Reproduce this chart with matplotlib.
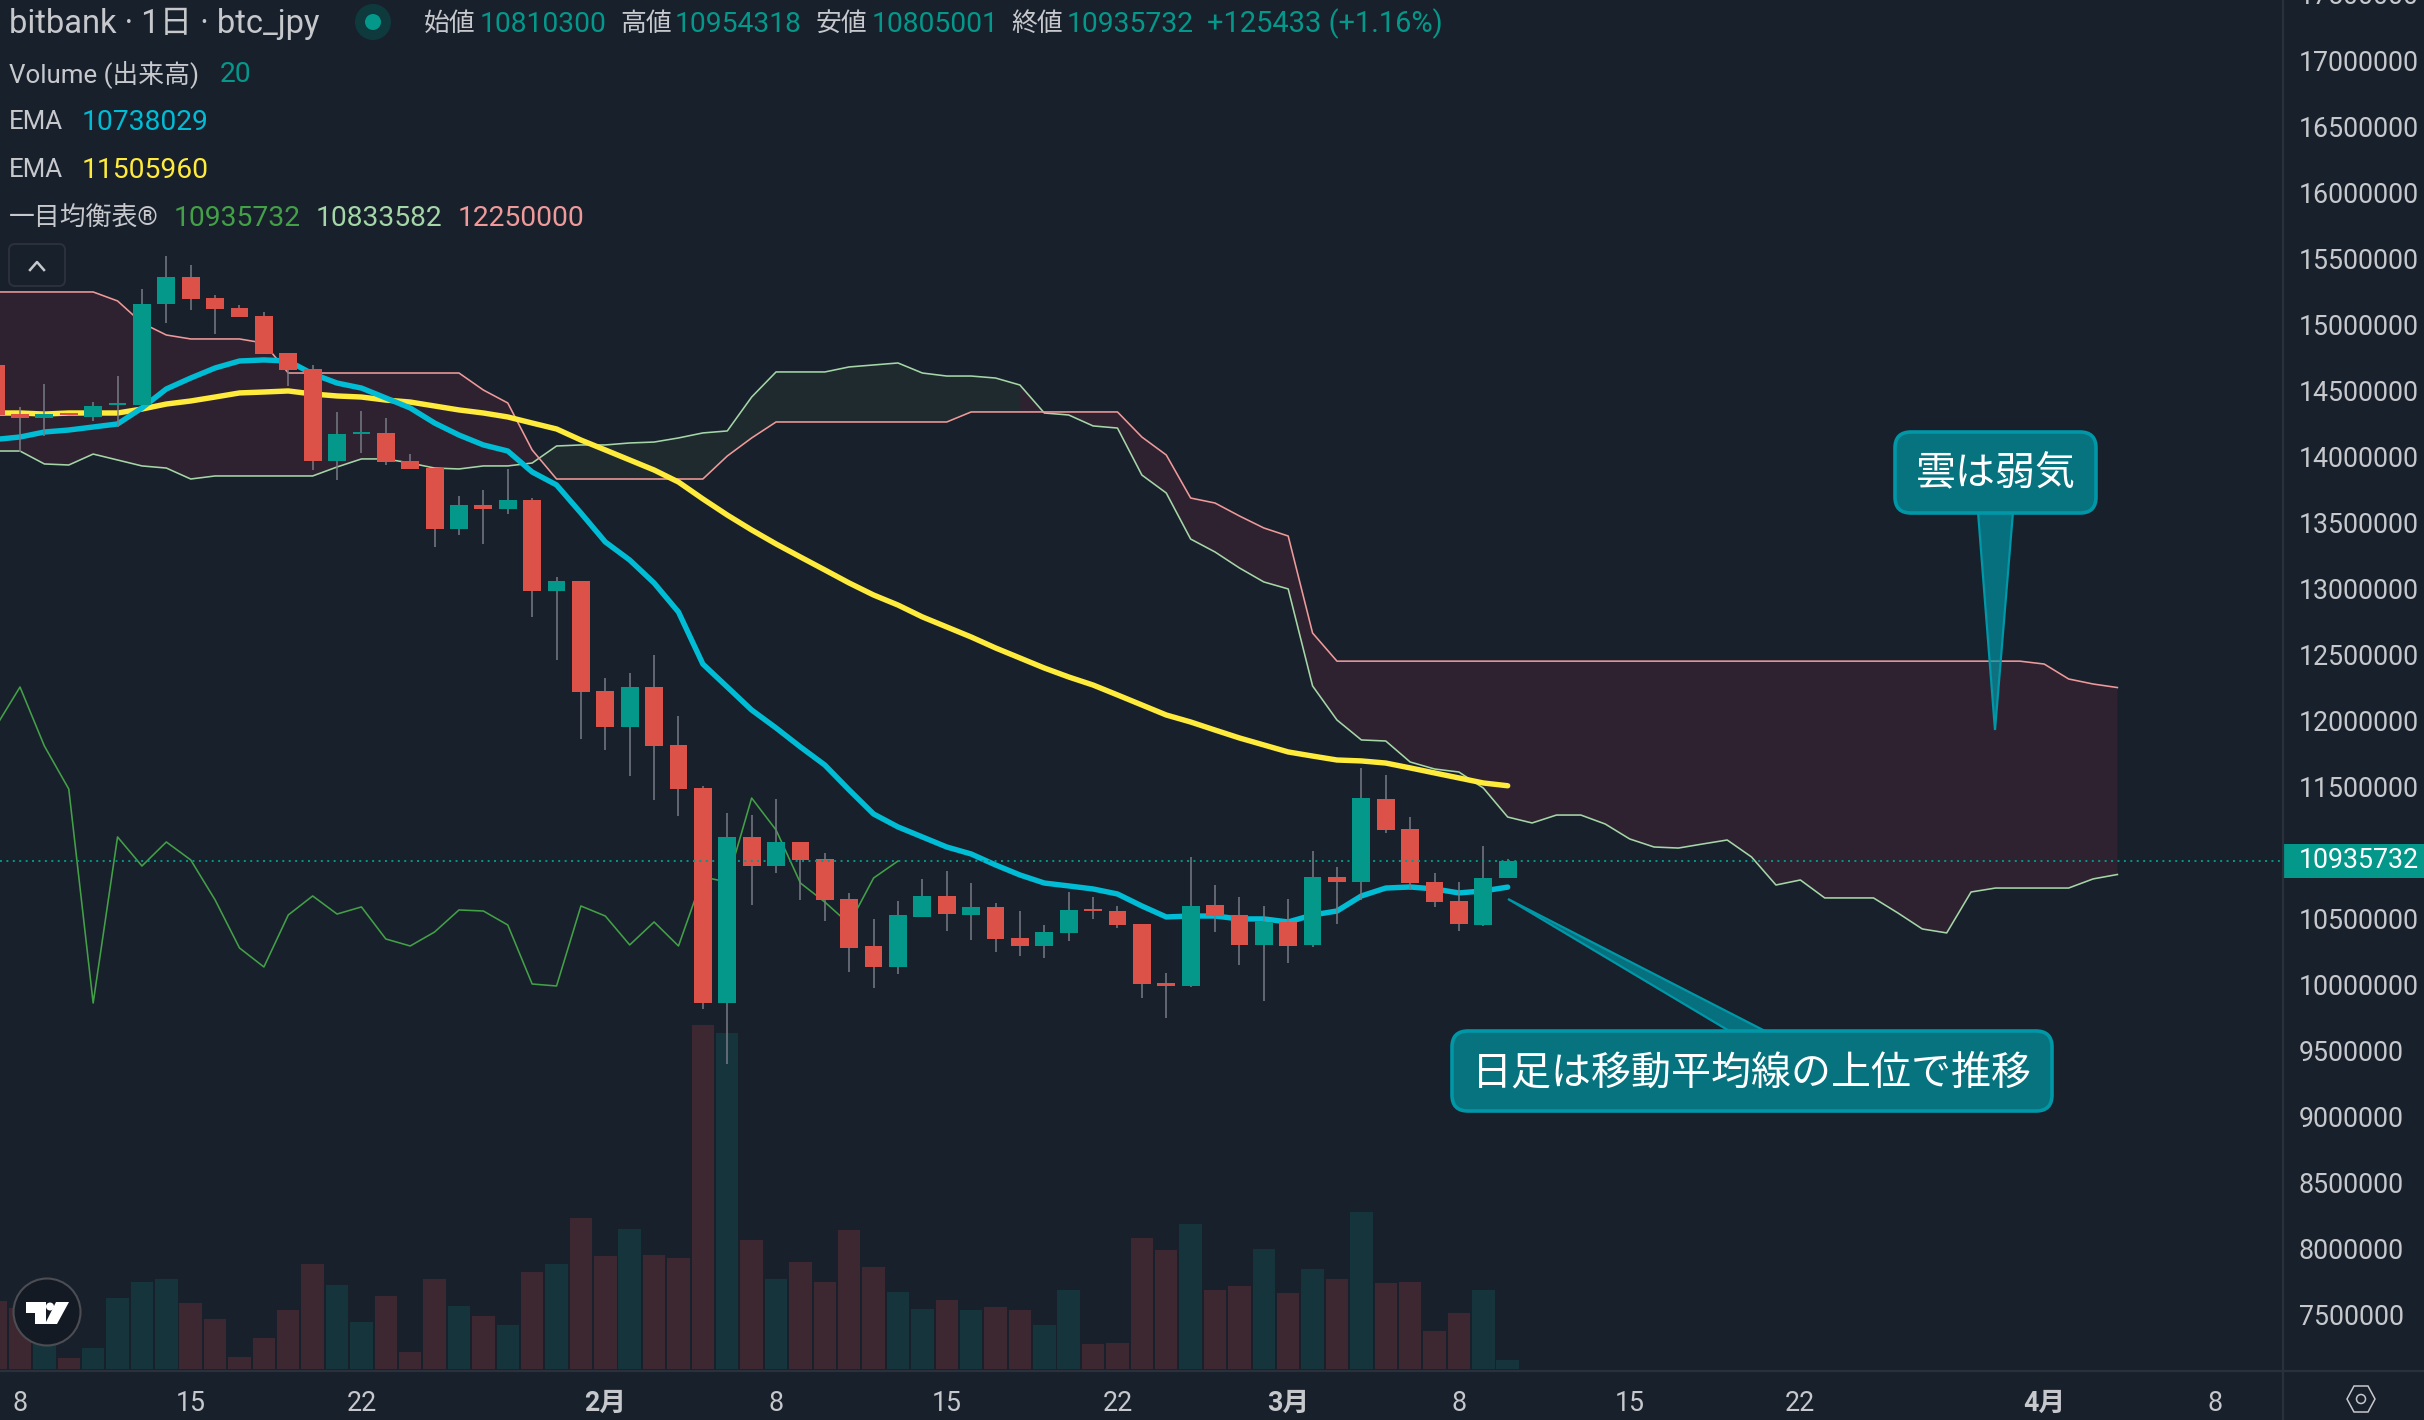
import numpy as np
import matplotlib
matplotlib.use("Agg")
import matplotlib.pyplot as plt
from matplotlib.patches import Circle, FancyBboxPatch, Polygon, Rectangle

# prices in thousand yen, day 0 = Jan 8, first bar is the day before
opens = [14694, 14322, 14292, 14330, 14300, 14391, 14391, 15156, 15360, 15201, 15126, 15065, 14785, 14663, 13966, 14171,
         14178, 13966, 13913, 13451, 13633, 13603, 13671, 12982, 13057, 12224, 11951, 12254, 11815, 11489, 9860, 11118,
         10898, 11080, 10951, 10648, 10292, 10133, 10512, 10671, 10527, 10588, 10353, 10292, 10391, 10572, 10557, 10459,
         10012, 9989, 10603, 10527, 10300, 10474, 10300, 10815, 10777, 11406, 11178, 10777, 10633, 10451, 10810.3]
highs = [14694, 14376, 14550, 14330, 14413, 14610, 15269, 15519, 15451, 15224, 15148, 15095, 14785, 14694, 14338, 14345,
         14292, 14019, 13913, 13701, 13747, 13906, 13686, 13088, 13057, 12322, 12360, 12497, 12035, 11504, 11300, 11284,
         11406, 11080, 10997, 10694, 10497, 10633, 10800, 10860, 10769, 10618, 10557, 10451, 10701, 10663, 10595, 10459,
         10087, 10966, 10754, 10663, 10595, 10648, 11012, 10891, 11641, 11588, 11269, 10845, 10777, 11050, 10954.318]
lows = [14315, 14035, 14156, 14315, 14269, 14224, 14391, 15012, 15110, 14929, 15057, 14777, 14535, 13898, 13822, 14027,
        13936, 13906, 13315, 13406, 13338, 13565, 12785, 12460, 11860, 11777, 11580, 11398, 11277, 9815, 9398, 10603,
        10845, 10641, 10481, 10095, 9974, 10080, 10512, 10406, 10338, 10247, 10216, 10201, 10330, 10497, 10428, 9898,
        9747, 9981, 10398, 10148, 9875, 10163, 10284, 10459, 10641, 11148, 10716, 10588, 10406, 10444, 10805.001]
closes = [14315, 14292, 14322, 14315, 14383, 14406, 15156, 15360, 15194, 15118, 15057, 14777, 14656, 13966, 14171, 14186,
          13959, 13906, 13451, 13633, 13603, 13671, 12982, 13057, 12216, 11951, 12254, 11807, 11481, 9860, 11118, 10898,
          11080, 10944, 10641, 10277, 10133, 10527, 10671, 10534, 10588, 10345, 10292, 10398, 10565, 10557, 10451, 10004,
          9989, 10595, 10519, 10300, 10474, 10292, 10815, 10777, 11413, 11171, 10769, 10625, 10459, 10807, 10935.732]
volumes = [68, 61, 30, 11, 21, 71, 87, 90, 66, 50, 12, 31, 59, 105, 84, 47, 73, 17, 90, 63, 53, 44, 97, 105, 151, 113,
           140, 114, 111, 344, 336, 129, 90, 107, 87, 139, 102, 77, 60, 69, 59, 62, 59, 44, 79, 25, 26, 131, 119, 145,
           79, 83, 120, 76, 100, 90, 157, 86, 87, 38, 56, 79, 9]
ema_fast = [14130, 14148, 14186, 14201, 14224, 14247, 14368, 14512, 14595, 14671, 14724, 14732, 14724, 14626, 14557, 14519,
            14444, 14368, 14254, 14163, 14088, 14042, 13883, 13785, 13572, 13353, 13216, 13042, 12822, 12428, 12254, 12080,
            11944, 11800, 11663, 11474, 11292, 11194, 11118, 11042, 10989, 10906, 10830, 10769, 10747, 10724, 10686, 10595,
            10512, 10519, 10519, 10497, 10497, 10474, 10527, 10557, 10671, 10731, 10739, 10724, 10694, 10709, 10738.029]
ema_slow = [14330, 14330, 14322, 14330, 14330, 14330, 14360, 14398, 14421, 14451, 14482, 14489, 14497, 14474, 14459, 14451,
            14428, 14413, 14383, 14353, 14330, 14300, 14254, 14209, 14125, 14050, 13974, 13898, 13807, 13679, 13557, 13444,
            13338, 13239, 13141, 13042, 12951, 12875, 12785, 12709, 12633, 12550, 12474, 12398, 12330, 12269, 12194, 12118,
            12042, 11989, 11928, 11868, 11815, 11762, 11731, 11701, 11694, 11678, 11641, 11603, 11565, 11527, 11505.96]
# ichimoku, starts on the same first bar and runs 25 days past the last candle
span_a = [14042, 14042, 13944, 13936, 14019, 13974, 13929, 13913, 13830, 13853, 13853, 13853, 13853, 13853, 13921, 13982,
          13982, 13951, 13913, 13906, 13929, 13929, 13951, 14080, 14088, 14088, 14103, 14110, 14141, 14179, 14194, 14451,
          14641, 14641, 14641, 14679, 14694, 14709, 14633, 14610, 14610, 14595, 14542, 14330, 14315, 14232, 14216, 13860,
          13724, 13375, 13277, 13156, 13050, 12997, 12262, 12004, 11853, 11845, 11686, 11633, 11610, 11489, 11269, 11224,
          11284, 11284, 11216, 11103, 11042, 11034, 11065, 11095, 10966, 10754, 10792, 10656, 10656, 10656, 10542, 10421,
          10391, 10701, 10731, 10731, 10731, 10731, 10800, 10833.582]
span_b = [15247, 15247, 15247, 15247, 15247, 15179, 15012, 14921, 14891, 14891, 14891, 14860, 14633, 14633, 14633, 14633,
          14633, 14633, 14633, 14633, 14504, 14406, 14050, 13830, 13830, 13830, 13830, 13830, 13830, 13830, 14004, 14141,
          14262, 14262, 14262, 14262, 14262, 14262, 14262, 14262, 14338, 14338, 14338, 14338, 14338, 14338, 14338, 14148,
          14012, 13686, 13648, 13550, 13459, 13398, 12663, 12450, 12450, 12450, 12450, 12450, 12450, 12450, 12450, 12450,
          12450, 12450, 12450, 12450, 12450, 12450, 12450, 12450, 12450, 12450, 12450, 12450, 12450, 12450, 12450, 12450,
          12450, 12450, 12450, 12450, 12428, 12315, 12277, 12250]
lagging = [11951, 12254, 11807, 11481, 9860, 11118, 10898, 11080, 10944, 10641, 10277, 10133, 10527, 10671, 10534, 10588,
           10345, 10292, 10398, 10565, 10557, 10451, 10004, 9989, 10595, 10519, 10300, 10474, 10292, 10815, 10777, 11413,
           11171, 10769, 10625, 10459, 10807, 10935.732]
last_price = 10935732

date_ticks = [0, 7, 14, 24, 31, 38, 45, 52, 59, 66, 73, 83, 90]
date_labels = ["8", "15", "22", "2月", "8", "15", "22", "3月", "8", "15", "22", "4月", "8"]
# 11000000 sits behind the last price tag
price_ticks = [p for p in range(7500000, 17000001, 500000) if p != 11000000]

BG = "#18202c"
UP = "#03988a"
DOWN = "#dc5249"
TEXT = "#c6c8cc"
LINE = "#2a303c"
FONT = ["Roboto", "Noto Sans CJK JP", "DejaVu Sans"]
plt.rcParams["font.family"] = FONT

W, H = 2424, 1420
CHART_R, CHART_B = 2283, 1371

fig = plt.figure(figsize=(W / 100, H / 100), dpi=100, facecolor=BG)
rect = [0, 1 - CHART_B / H, CHART_R / W, CHART_B / H]

vol_ax = fig.add_axes(rect, facecolor=BG, zorder=0)
ax = fig.add_axes(rect, facecolor="none", zorder=1)
top = fig.add_axes([0, 0, 1, 1], facecolor="none", zorder=2)

days = np.arange(len(opens)) - 1
o, h, l, c = [np.array(v) * 1000.0 for v in (opens, highs, lows, closes)]
is_up = c >= o
xlim = (-0.82, 92.79)

# volume
vol_ax.bar(days, volumes, width=0.92, color=np.where(is_up, "#16343b", "#3d2730"))
vol_ax.set_xlim(xlim)
vol_ax.set_ylim(-2, 1369)
vol_ax.axis("off")

# cloud
cloud_x = np.arange(len(span_a)) - 1
a = np.array(span_a) * 1000.0
b = np.array(span_b) * 1000.0
ax.fill_between(cloud_x, a, b, where=(a > b) & (cloud_x <= 41), interpolate=True, color="#1e2a2e", lw=0, zorder=1)
ax.fill_between(cloud_x, a, b, where=a < b, interpolate=True, color="#2f2230", lw=0, zorder=1)
ax.fill_between(cloud_x, a, b, where=(cloud_x >= 41) & (cloud_x <= 42), color="#2f2230", lw=0, zorder=1)
ax.plot(cloud_x, a, color="#a5d6a7", lw=1.15, zorder=2)
ax.plot(cloud_x, b, color="#ef9a9a", lw=1.15, zorder=2)
ax.plot(np.arange(len(lagging)) - 1, np.array(lagging) * 1000, color="#43a047", lw=1.15, zorder=2)

# moving averages
ax.plot(days, np.array(ema_slow) * 1000, color="#ffeb3b", lw=3.9, solid_capstyle="round", zorder=3)
ax.plot(days, np.array(ema_fast) * 1000, color="#00bcd4", lw=3.9, solid_capstyle="round", zorder=3)

# candles
ax.vlines(days, l, h, color="#787b86", lw=1.1, zorder=4)
ax.bar(days, np.abs(c - o), bottom=np.minimum(o, c), width=0.73, color=np.where(is_up, UP, DOWN), zorder=5)

# last price line
ax.axhline(last_price, color=UP, lw=1.4, dashes=(1, 2.3), zorder=6)

ax.set_xlim(xlim)
ax.set_ylim(7072000, 17459000)
ax.yaxis.tick_right()
ax.set_yticks(price_ticks)
ax.set_yticklabels([str(p) for p in price_ticks])
ax.set_xticks(date_ticks)
ax.set_xticklabels(date_labels)
ax.tick_params(axis="both", length=0, labelsize=19.3, colors=TEXT)
ax.tick_params(axis="y", pad=11.5)
ax.tick_params(axis="x", pad=13.5)
for tick in ax.get_xticklabels():
    if "月" in tick.get_text():
        tick.set_fontweight("bold")
for side in ax.spines:
    ax.spines[side].set_visible(False)

# everything below sits on a pixel overlay
top.set_xlim(0, W)
top.set_ylim(H, 0)
top.axis("off")

top.plot([0, W], [CHART_B, CHART_B], color=LINE, lw=1.6)
top.plot([CHART_R, CHART_R], [0, H], color=LINE, lw=1.6)
top.add_patch(Rectangle((CHART_R, 844), W - CHART_R, 34, color=UP, lw=0))
top.text(2419, 861, str(last_price), color="white", fontsize=19.3, ha="right", va="center")
top.text(2419, -4, "17500000", color=TEXT, fontsize=19.3, ha="right", va="center")


def label(x, y, s, color=TEXT, size=18.6):
    top.text(x, y, s, color=color, fontsize=size, ha="left", va="center")


DIGITS = 20.3
label(9, 24, "bitbank · 1日 · btc_jpy", size=23.5)
top.add_patch(Circle((373, 22), 18, color="#0f3a3d", lw=0))
top.add_patch(Circle((373, 22), 8, color=UP, lw=0))
label(424, 24, "始値")
label(480, 24, "10810300", UP, DIGITS)
label(620, 24, "高値")
label(675, 24, "10954318", UP, DIGITS)
label(816, 24, "安値")
label(872, 24, "10805001", UP, DIGITS)
label(1011, 24, "終値")
label(1067, 24, "10935732", UP, DIGITS)
label(1207, 24, "+125433 (+1.16%)", UP, 20.9)
label(9, 74, "Volume (出来高)")
label(220, 74, "20", UP, DIGITS)
label(9, 122, "EMA")
label(82, 122, "10738029", "#00bcd4", DIGITS)
label(9, 170, "EMA")
label(82, 170, "11505960", "#ffeb3b", DIGITS)
label(9, 218, "一目均衡表®")
label(174, 218, "10935732", "#43a047", DIGITS)
label(316, 218, "10833582", "#a5d6a7", DIGITS)
label(458, 218, "12250000", "#ef9a9a", DIGITS)

# collapse button
top.add_patch(FancyBboxPatch((12, 247), 50, 36, boxstyle="round,pad=3,rounding_size=6",
                             fc=BG, ec="#2c313c", lw=1.4))
top.plot([30, 37, 44], [270, 262, 270], color=TEXT, lw=1.8)

# tradingview badge
top.add_patch(Circle((47, 1312), 33.5, fc="#141a24", ec="#4b4d52", lw=1.5))
top.add_patch(Polygon([(25.5, 1302), (46, 1302), (46, 1324), (35, 1324), (35, 1313), (25.5, 1313)], color="white", lw=0))
top.add_patch(Circle((50, 1306.5), 4, color="white", lw=0))
top.add_patch(Polygon([(56, 1302), (69, 1302), (57, 1324), (45, 1324)], color="white", lw=0))

# settings hexagon
hex_x = 2361 + 14 * np.array([1, 0.5, -0.5, -1, -0.5, 0.5])
hex_y = 1399 + 13 * np.array([0, 1, 1, 0, -1, -1])
top.add_patch(Polygon(np.c_[hex_x, hex_y], closed=True, fc="none", ec=TEXT, lw=1.1))
top.add_patch(Circle((2361, 1399), 4.5, fc="none", ec=TEXT, lw=1.1))


def callout(x0, y0, x1, y1, tail, s, cx, cy):
    fill = (0.0, 0.592, 0.655, 0.68)
    edge = "#0097a7"
    top.add_patch(Polygon(tail, closed=True, fc=fill, ec=edge, lw=1.6))
    top.add_patch(FancyBboxPatch((x0 + 14, y0 + 14), x1 - x0 - 28, y1 - y0 - 28,
                                 boxstyle="round,pad=14,rounding_size=16", fc="#06737f", ec=edge, lw=2.6))
    top.text(cx, cy, s, color="white", fontsize=28.8, ha="center", va="center")


callout(1895, 432, 2096, 513, [(1978, 512), (1995, 730), (2013, 512)], "雲は弱気", 1996, 474)
callout(1452, 1031, 2052, 1111, [(1731, 1032), (1508, 899), (1767, 1032)], "日足は移動平均線の上位で推移", 1752, 1073)

fig.savefig("out.png", dpi=100, facecolor=BG)
